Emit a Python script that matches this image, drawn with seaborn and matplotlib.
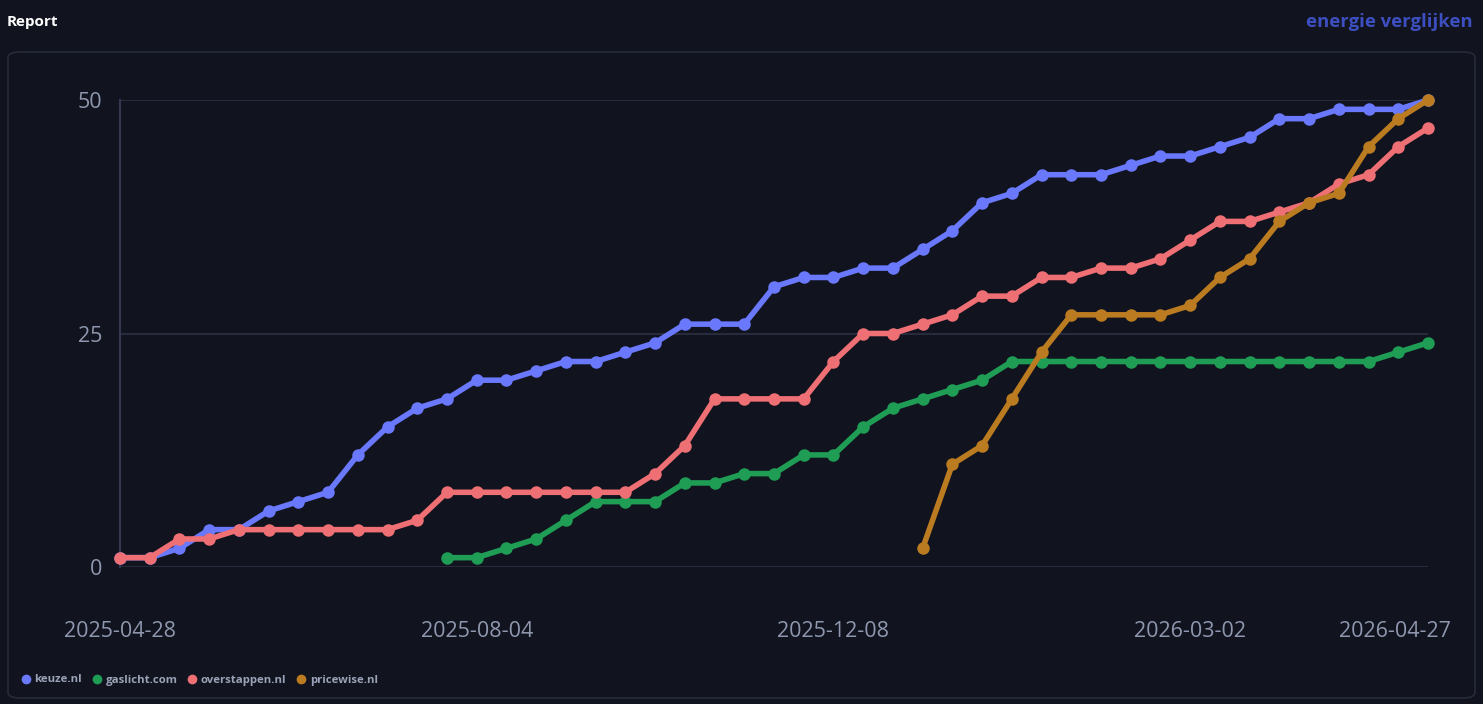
import numpy as np
import pandas as pd

import matplotlib
matplotlib.use("Agg")
import matplotlib.pyplot as plt
import seaborn as sns
from matplotlib.patches import FancyBboxPatch
from matplotlib.lines import Line2D
from matplotlib.transforms import ScaledTranslation

# weekly report dates (some weeks are missing in the source)
dates = [
    "2025-04-28", "2025-05-05", "2025-05-12", "2025-05-19", "2025-05-26",
    "2025-06-02", "2025-06-09", "2025-06-16", "2025-06-23", "2025-06-30",
    "2025-07-07", "2025-07-21", "2025-08-04", "2025-08-11", "2025-08-18",
    "2025-08-25", "2025-09-08", "2025-09-15", "2025-09-29", "2025-10-06",
    "2025-10-20", "2025-10-27", "2025-11-10", "2025-11-17", "2025-12-08",
    "2025-12-15", "2025-12-22", "2025-12-29", "2026-01-05", "2026-01-12",
    "2026-01-19", "2026-01-26", "2026-02-02", "2026-02-09", "2026-02-16",
    "2026-02-23", "2026-03-02", "2026-03-09", "2026-03-16", "2026-03-23",
    "2026-03-30", "2026-04-06", "2026-04-13", "2026-04-20", "2026-04-27",
]

keuze = [1, 1, 2, 4, 4, 6, 7, 8, 12, 15, 17, 18, 20, 20, 21, 22, 22, 23, 24, 26,
         26, 26, 30, 31, 31, 32, 32, 34, 36, 39, 40, 42, 42, 42, 43, 44, 44, 45,
         46, 48, 48, 49, 49, 49, 50]
# gaslicht.com starts at index 11
gaslicht = [1, 1, 2, 3, 5, 7, 7, 7, 9, 9, 10, 10, 12, 12, 15, 17, 18, 19, 20, 22,
            22, 22, 22, 22, 22, 22, 22, 22, 22, 22, 22, 22, 23, 24]
overstappen = [1, 1, 3, 3, 4, 4, 4, 4, 4, 4, 5, 8, 8, 8, 8, 8, 8, 8, 10, 13, 18,
               18, 18, 18, 22, 25, 25, 26, 27, 29, 29, 31, 31, 32, 32, 33, 35, 37,
               37, 38, 39, 41, 42, 45, 47]
# pricewise.nl starts at index 27
pricewise = [2, 11, 13, 18, 23, 27, 27, 27, 27, 28, 31, 33, 37, 39, 40, 45, 48, 50]

series = ["keuze.nl", "gaslicht.com", "overstappen.nl", "pricewise.nl"]
colors = ["#6a78fb", "#1f9d55", "#ee6f74", "#bb7b20"]
tick_idx = [0, 12, 24, 36, 44]

rows = []
for name, vals in zip(series, [keuze, gaslicht, overstappen, pricewise]):
    start = len(dates) - len(vals)
    for i, v in enumerate(vals):
        rows.append({"idx": start + i, "date": dates[start + i], "site": name, "value": v})
df = pd.DataFrame(rows)

bg = "#11141f"
fig = plt.figure(figsize=(14.83, 7.04), dpi=100, facecolor=bg)
plt.rcParams["font.family"] = ["Open Sans", "DejaVu Sans"]

# card frame (behind the axes)
card = FancyBboxPatch((8 / 1483, 6 / 704), 1467 / 1483, 646 / 704,
                      boxstyle="round,pad=0,rounding_size=0.008",
                      transform=fig.transFigure, facecolor=bg,
                      edgecolor="#262b3a", linewidth=1.2, zorder=-10)
fig.patches.append(card)

ax = fig.add_axes([120 / 1483, 1 - 567 / 704, 1308 / 1483, 467 / 704])
ax.set_facecolor("none")

sns.lineplot(
    data=df, x="idx", y="value", hue="site", hue_order=series,
    palette=colors, marker="o", markersize=9, markeredgewidth=0,
    linewidth=4, legend=False, ax=ax, clip_on=False, zorder=3
)

ax.set_xlim(0, len(dates) - 1)
ax.set_ylim(0, 50)
ax.set_yticks([0, 25, 50])
ax.set_xticks(tick_idx)
ax.set_xticklabels([dates[i] for i in tick_idx])
ax.set_xlabel("")
ax.set_ylabel("")

ax.grid(axis="y", color="#272b3b", linewidth=1.5)
ax.grid(axis="x", visible=False)
ax.set_axisbelow(True)
for s in ["top", "right", "bottom"]:
    ax.spines[s].set_visible(False)
ax.spines["left"].set_color("#333850")
ax.spines["left"].set_linewidth(1.5)
ax.tick_params(axis="both", length=0, labelsize=15.5, labelcolor="#8e97ad")
ax.tick_params(axis="y", pad=13)
ax.tick_params(axis="x", pad=39)

# last label is shifted left so it stays inside the card
last = ax.get_xticklabels()[-1]
last.set_transform(last.get_transform() + ScaledTranslation(-0.33, 0, fig.dpi_scale_trans))

fig.text(7 / 1483, 1 - 22 / 704, "Report", color="white", fontsize=11,
         fontweight="bold", va="center", ha="left")
fig.text(1473 / 1483, 1 - 22 / 704, "energie verglijken", color="#3d4fc0",
         fontsize=13.3, fontweight="bold", va="center", ha="right")

handles = [Line2D([0], [0], marker="o", linestyle="", markersize=7,
                  markerfacecolor=c, markeredgewidth=0) for c in colors]
leg = fig.legend(handles, series, loc="center left",
                 bbox_to_anchor=(10 / 1483, 1 - 680 / 704), ncol=4, frameon=False,
                 handletextpad=0.25, columnspacing=0.8, handlelength=1.0,
                 prop={"size": 8.2, "weight": "bold"})
for t in leg.get_texts():
    t.set_color("#9aa3b8")

plt.savefig("out.png", dpi=100, facecolor=bg)
